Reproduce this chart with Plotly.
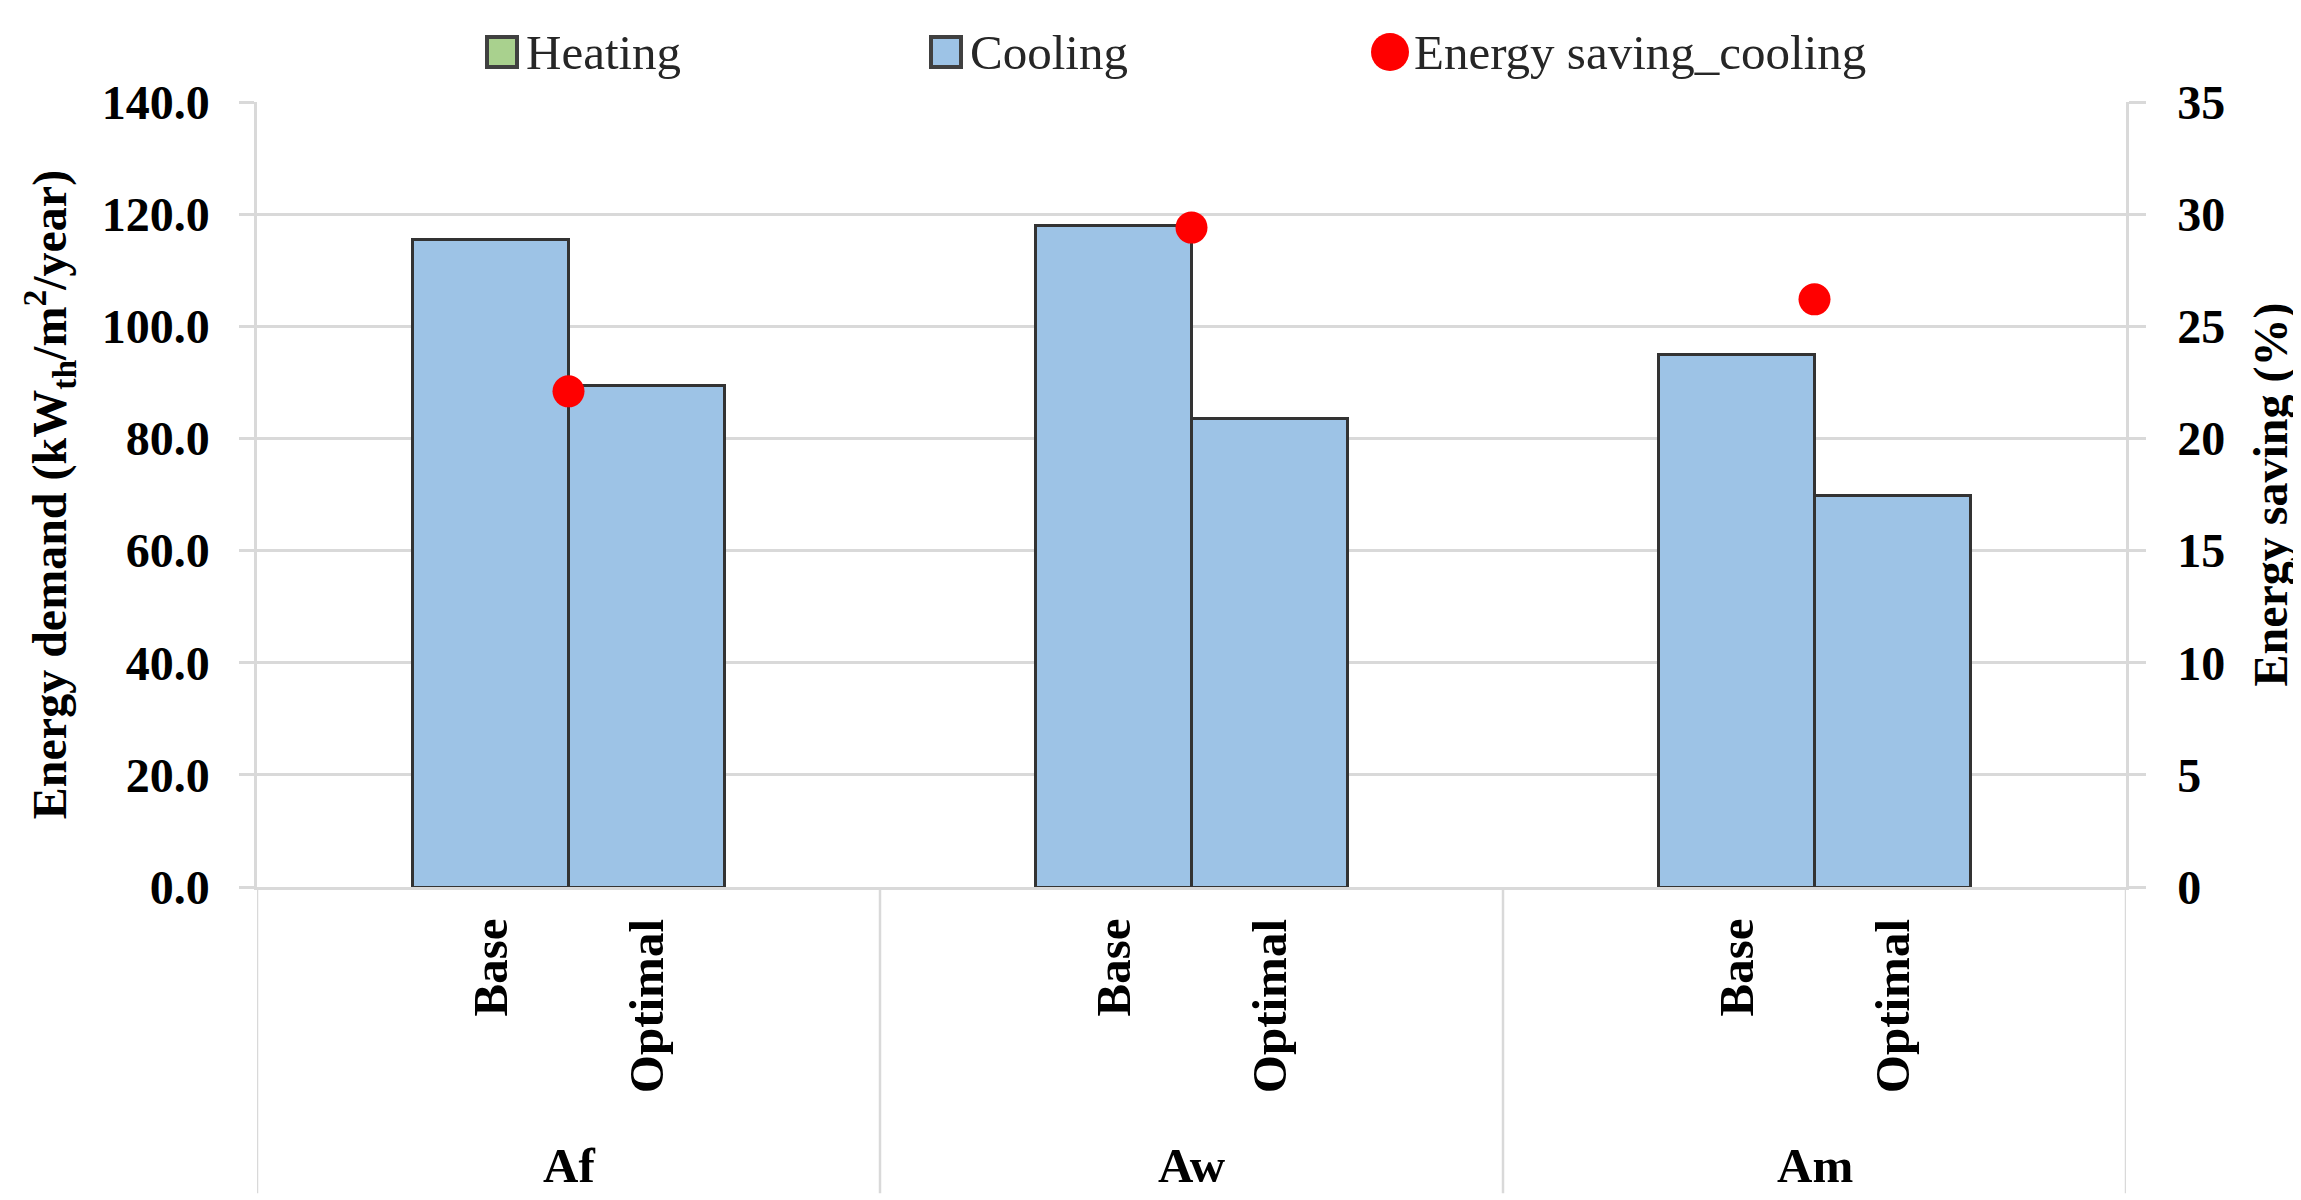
import plotly.graph_objects as go

# ---- data ----
groups = ["Af", "Aw", "Am"]
cases = ["Base", "Optimal"]
heating = [0.0, 0.0, 0.0, 0.0, 0.0, 0.0]
cooling = [115.4, 89.5, 118.0, 83.5, 95.0, 69.9]
saving_cooling = [22.1, 29.4, 26.2]
y_ticks = [0, 20, 40, 60, 80, 100, 120, 140]
y2_ticks = [0, 5, 10, 15, 20, 25, 30, 35]
legend_names = ["Heating", "Cooling", "Energy saving_cooling"]

FONT = "Liberation Serif, Times New Roman, serif"
GRID = "#d9d9d9"
FS = 48
HEAT_C = "#a9d18e"
COOL_C = "#9dc3e6"
DOT_C = "#ff0000"
EDGE = "#333333"

W, H = 2301, 1200
ML, MR, MT, MB = 249, 183, 94, 321
PW = W - ML - MR
PH = H - MT - MB

def px_to_paper_x(px):
    return (px - ML) / PW

def px_to_paper_y(py):
    return (H - MB - py) / PH

# positions (group index based)
bar_x = []
for gi, g in enumerate(groups):
    for ci, c in enumerate(cases):
        bar_x.append(gi + 0.375 + 0.25 * ci)
dot_x = [gi + 0.5 for gi in range(len(groups))]

fig = go.Figure()
fig.add_trace(go.Bar(
    x=bar_x, y=heating, width=0.25, name=legend_names[0], showlegend=False,
    marker=dict(color=HEAT_C, line=dict(color=EDGE, width=3)),
))
fig.add_trace(go.Bar(
    x=bar_x, y=cooling, width=0.25, name=legend_names[1], showlegend=False,
    marker=dict(color=COOL_C, line=dict(color=EDGE, width=3)),
))
fig.add_trace(go.Scatter(
    x=dot_x, y=saving_cooling, yaxis="y2", mode="markers",
    name=legend_names[2], showlegend=False,
    marker=dict(color=DOT_C, size=32),
))

annotations = []
for gi, g in enumerate(groups):
    for ci, c in enumerate(cases):
        annotations.append(dict(
            x=bar_x[gi * 2 + ci], y=-0.038, xref="x", yref="paper",
            text=c, textangle=-90, showarrow=False,
            xanchor="center", yanchor="top",
            font=dict(family=FONT, size=49, color="black", weight="bold"),
        ))
    annotations.append(dict(
        x=gi + 0.5, y=-0.355, xref="x", yref="paper", text=g,
        showarrow=False, xanchor="center", yanchor="middle",
        font=dict(family=FONT, size=49, color="black", weight="bold"),
    ))

shapes = []
for xv in range(len(groups) + 1):
    shapes.append(dict(
        type="line", xref="x", yref="paper", x0=xv, x1=xv, y0=0, y1=-0.39,
        line=dict(color=GRID, width=2.5),
    ))

# ---- legend (drawn with shapes + text so symbol sizes match) ----
leg_centers = [494, 938, 1382]
leg_y = px_to_paper_y(44)
leg_styles = [
    dict(type="rect", fill=HEAT_C, line=dict(color="#404040", width=4), half=15),
    dict(type="rect", fill=COOL_C, line=dict(color="#404040", width=4), half=15),
    dict(type="circle", fill=DOT_C, line=dict(width=0), half=19),
]
for name, cx, st in zip(legend_names, leg_centers, leg_styles):
    xa = px_to_paper_x(cx)
    shapes.append(dict(
        type=st["type"], xref="paper", yref="paper",
        xsizemode="pixel", ysizemode="pixel", xanchor=xa, yanchor=leg_y,
        x0=-st["half"], x1=st["half"], y0=-st["half"], y1=st["half"],
        fillcolor=st["fill"], line=st["line"], layer="above",
    ))
    annotations.append(dict(
        x=px_to_paper_x(cx + 22), y=leg_y, xref="paper", yref="paper",
        text=name, showarrow=False, xanchor="left", yanchor="middle",
        font=dict(family=FONT, size=49, color="#262626"),
    ))

fig.update_layout(
    width=W, height=H,
    margin=dict(l=ML, r=MR, t=MT, b=MB, autoexpand=False),
    paper_bgcolor="white", plot_bgcolor="white",
    barmode="stack",
    font=dict(family=FONT, size=FS, color="black"),
    showlegend=False,
    xaxis=dict(
        range=[0, 3], showticklabels=False, showgrid=False, zeroline=False,
        showline=True, linecolor=GRID, linewidth=2.5, ticks="", fixedrange=True,
    ),
    yaxis=dict(
        range=[0, 140], tickvals=y_ticks,
        ticktext=[f"{v:.1f}" for v in y_ticks],
        showgrid=True, gridcolor=GRID, gridwidth=2.5, zeroline=False,
        showline=True, linecolor=GRID, linewidth=2.5,
        ticks="outside", ticklen=15, tickcolor=GRID, tickwidth=2.5,
        ticklabelstandoff=20,
        tickfont=dict(family=FONT, size=FS, color="black", weight="bold"),
        title=dict(text="Energy demand (kW<sub>th</sub>/m<sup>2</sup>/year)",
                   font=dict(family=FONT, size=FS, color="black", weight="bold"),
                   standoff=20),
        automargin=False,
    ),
    yaxis2=dict(
        range=[0, 35], tickvals=y2_ticks, overlaying="y", side="right",
        showgrid=False, zeroline=False,
        showline=True, linecolor=GRID, linewidth=2.5,
        ticks="outside", ticklen=17, tickcolor=GRID, tickwidth=2.5,
        ticklabelstandoff=22,
        tickfont=dict(family=FONT, size=FS, color="black", weight="bold"),
        title=dict(text="Energy saving (%)",
                   font=dict(family=FONT, size=FS, color="black", weight="bold"),
                   standoff=30),
        automargin=False,
    ),
    annotations=annotations,
    shapes=shapes,
)

fig.write_html("out.html")
